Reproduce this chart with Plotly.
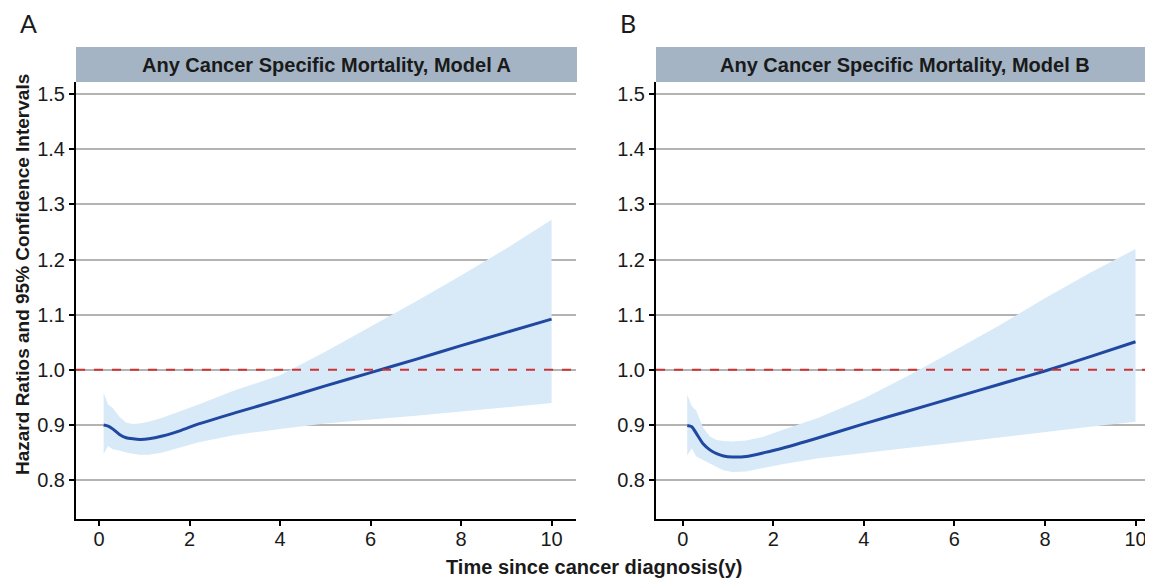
import plotly.graph_objects as go

# browser body margin is 8px, so the figure is drawn at (8, 8)
OFF = 8
W, H = 1153 - OFF, 585 - OFF

# ---- data ----
time_y = [0.1, 0.2, 0.3, 0.45, 0.6, 0.75, 0.9, 1.1, 1.4, 1.8, 2.2, 3, 4, 5, 6, 7, 8, 9, 10]

hr_a = [0.900, 0.898, 0.893, 0.883, 0.877, 0.875, 0.874, 0.875, 0.880, 0.890, 0.902,
        0.922, 0.946, 0.971, 0.995, 1.019, 1.044, 1.068, 1.092]
upper_a = [0.958, 0.937, 0.931, 0.915, 0.904, 0.902, 0.903, 0.906, 0.913, 0.925, 0.937,
           0.963, 0.990, 1.033, 1.078, 1.124, 1.171, 1.220, 1.272]
lower_a = [0.848, 0.862, 0.856, 0.854, 0.850, 0.848, 0.846, 0.846, 0.850, 0.860, 0.869,
           0.882, 0.893, 0.903, 0.910, 0.917, 0.924, 0.932, 0.940]

hr_b = [0.899, 0.897, 0.885, 0.866, 0.855, 0.848, 0.844, 0.842, 0.843, 0.850, 0.858,
        0.877, 0.902, 0.926, 0.950, 0.974, 0.998, 1.024, 1.051]
upper_b = [0.955, 0.934, 0.926, 0.895, 0.879, 0.873, 0.871, 0.870, 0.872, 0.879, 0.891,
           0.913, 0.948, 0.990, 1.035, 1.081, 1.130, 1.176, 1.219]
lower_b = [0.845, 0.858, 0.843, 0.836, 0.830, 0.824, 0.818, 0.815, 0.816, 0.822, 0.829,
           0.840, 0.850, 0.859, 0.868, 0.877, 0.887, 0.897, 0.906]

panel_titles = ["Any Cancer Specific Mortality, Model A", "Any Cancer Specific Mortality, Model B"]
panel_tags = ["A", "B"]
x_ticks = [0, 2, 4, 6, 8, 10]
y_ticks = [0.8, 0.9, 1.0, 1.1, 1.2, 1.3, 1.4, 1.5]
reference_hr = 1.0

# ---- style ----
FONT = "Liberation Sans, Arial, sans-serif"
FILL = "#D8E9F7"
LINE = "#2148A0"
GRID = "#B3B3B3"
STRIP = "#A4B4C4"

def px_x(p):
    return (p - OFF) / W

def px_y(p):
    return 1 - (p - OFF) / H

dom_y = [px_y(518.5), px_y(82)]
dom_xa = [px_x(76), px_x(576)]
dom_xb = [px_x(656), px_x(1150)]

fig = go.Figure()

panels = [
    ("x", "y", hr_a, upper_a, lower_a),
    ("x2", "y2", hr_b, upper_b, lower_b),
]
for xa, ya, hr, up, lo in panels:
    fig.add_trace(go.Scatter(
        x=time_y + time_y[::-1], y=up + lo[::-1], fill="toself", fillcolor=FILL,
        line=dict(width=0, color=FILL), mode="lines", hoverinfo="skip",
        showlegend=False, xaxis=xa, yaxis=ya))
    fig.add_trace(go.Scatter(
        x=time_y, y=hr, mode="lines", line=dict(color=LINE, width=3, shape="spline", smoothing=0.6),
        showlegend=False, xaxis=xa, yaxis=ya))

axis_common = dict(
    showline=True, linecolor="black", linewidth=2, mirror=False,
    ticks="outside", ticklen=5, tickwidth=2, tickcolor="black",
    tickfont=dict(family=FONT, size=20, color="#1a1a1a"),
    zeroline=False,
)

fig.update_layout(
    width=W, height=H,
    margin=dict(l=0, r=0, t=0, b=0),
    paper_bgcolor="white", plot_bgcolor="white",
    xaxis=dict(domain=dom_xa, range=[-0.51, 10.54], tickvals=x_ticks, showgrid=False,
               anchor="y", ticklabelstandoff=-4, **axis_common),
    yaxis=dict(domain=dom_y, range=[0.7306, 1.5217], tickvals=y_ticks,
               ticktext=[f"{v:.1f}" for v in y_ticks], showgrid=True, gridcolor=GRID,
               gridwidth=2, anchor="x", **axis_common),
    xaxis2=dict(domain=dom_xb, range=[-0.59, 10.32], tickvals=x_ticks, showgrid=False,
                anchor="y2", ticklabelstandoff=-4, **axis_common),
    yaxis2=dict(domain=dom_y, range=[0.7306, 1.5217], tickvals=y_ticks,
                ticktext=[f"{v:.1f}" for v in y_ticks], showgrid=True, gridcolor=GRID,
                gridwidth=2, anchor="x2", **axis_common),
)

# reference lines
for xr, yr in [("x", "y"), ("x2", "y2")]:
    fig.add_shape(type="line", xref=f"{xr} domain", yref=yr, x0=0, x1=1,
                  y0=reference_hr, y1=reference_hr,
                  line=dict(color="#CC3333", width=2, dash="dash"), layer="above")

# strips
strips = [(76, 577, panel_titles[0]), (656, 1153, panel_titles[1])]
for x0, x1, txt in strips:
    fig.add_shape(type="rect", xref="paper", yref="paper",
                  x0=px_x(x0), x1=min(px_x(x1), 1.0), y0=px_y(82), y1=px_y(47),
                  fillcolor=STRIP, line=dict(width=0), layer="above")
    fig.add_annotation(xref="paper", yref="paper", x=px_x((x0 + x1) / 2), y=px_y(64.5),
                       text=f"<b>{txt}</b>", showarrow=False, xanchor="center", yanchor="middle",
                       font=dict(family=FONT, size=20, color="#1a1a1a"))

# panel tags
for xp, tag in [(29, panel_tags[0]), (628, panel_tags[1])]:
    fig.add_annotation(xref="paper", yref="paper", x=px_x(xp), y=px_y(23), text=tag,
                       showarrow=False, xanchor="center", yanchor="middle",
                       font=dict(family="Lato, sans-serif", size=25, color="#1a1a1a"))

# axis titles
fig.add_annotation(xref="paper", yref="paper", x=px_x(594), y=px_y(567),
                   text="<b>Time since cancer diagnosis(y)</b>", showarrow=False,
                   xanchor="center", yanchor="middle",
                   font=dict(family=FONT, size=20, color="#1a1a1a"))
fig.add_annotation(xref="paper", yref="paper", x=px_x(22), y=px_y(275),
                   text="<b>Hazard Ratios and 95% Confidence Intervals</b>", showarrow=False,
                   textangle=-90, xanchor="center", yanchor="middle",
                   font=dict(family=FONT, size=19, color="#1a1a1a"))

fig.write_html("out.html")
